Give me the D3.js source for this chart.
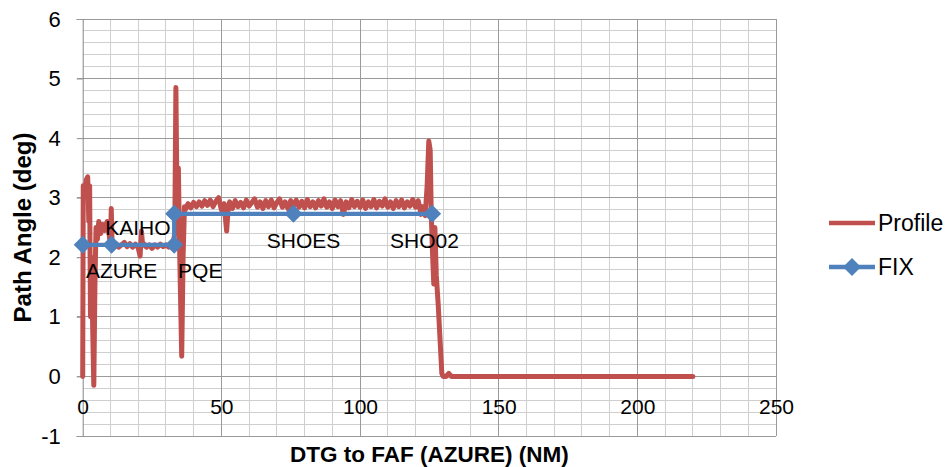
<!DOCTYPE html>
<html><head><meta charset="utf-8">
<script src="https://cdn.jsdelivr.net/npm/d3@7/dist/d3.min.js"></script>
<style>
body{margin:0;background:#fff;}
svg{display:block;font-family:"Liberation Sans",Arial,sans-serif;}
</style></head>
<body><svg id="c" width="949" height="467"></svg>
<script>
// ---- data ----
const profileDist = [0,0.2,0.8,1.3,1.8,2.2,2.5,2.8,3.2,3.6,4.0,4.4,4.8,5.3,5.8,6.5,7.2,8.0,8.8,9.5,10.0,10.3,10.6,
 11,12,13,14,15,16,17,18,19,20,20.7,21.2,21.6,22,23,24,25,26,27,28,29,30,31,32,32.5,33.2,33.6,34.0,34.5,35.0,35.7,36.2,36.7,
 37,38,39,40,41,42,43,44,45,46,47,48,49,50,51,51.9,52.5,53,54,55,56,57,58,59,60,61,62,63,64,65,66,67,68,69,70,
 71,72,73,74,75,76,77,78,79,80,81,82,83,84,85,86,87,88,89,90,91,92,93,94,95,96,97,98,99,100,
 101,102,103,104,105,106,107,108,109,110,111,112,113,114,115,116,117,118,119,120,121,122,122.5,123.5,124.2,124.8,125.3,125.7,126.2,126.6,127.0,127.5,128.2,129.5,130,131,132,133,220];
const profileAngle = [0,3.2,3.1,3.3,3.35,2.6,3.2,1.0,2.0,0.8,-0.15,1.5,2.5,2.3,2.6,2.4,2.55,2.45,2.6,2.4,2.2,2.82,2.2,
 2.2,2.23,2.17,2.21,2.25,2.18,2.23,2.17,2.22,2.16,2.02,2.44,2.2,2.23,2.17,2.21,2.15,2.21,2.17,2.22,2.18,2.21,2.17,2.2,2.2,2.4,4.85,3.0,3.5,2.0,0.34,2.0,2.85,
 2.8,2.9,2.83,2.92,2.85,2.93,2.86,2.95,2.87,2.96,2.85,2.94,3.0,2.8,2.9,2.44,2.84,2.93,2.82,2.95,2.85,2.92,2.83,2.96,2.86,2.92,2.98,2.84,2.93,2.82,2.95,2.85,2.96,2.83,2.92,
 2.98,2.84,2.93,2.82,2.95,2.86,2.96,2.84,2.94,2.83,2.97,2.85,2.93,2.83,2.95,2.86,2.98,2.84,2.93,2.82,2.96,2.85,2.95,2.72,2.93,2.83,2.97,2.85,2.94,2.84,
 2.96,2.82,2.93,2.85,2.97,2.83,2.94,2.86,2.98,2.84,2.93,2.82,2.95,2.85,2.96,2.83,2.93,2.86,2.97,2.84,2.95,2.72,2.85,2.7,3.2,3.95,3.8,2.7,2.0,1.55,2.5,1.7,1.2,0.05,0.0,0.0,0.05,0.0,0.0];
const fixNames = ["AZURE","KAIHO","PQE","PQE","SHOES","SHO02"];
const fixDist  = [0,10.4,33,33,76,126];
const fixAngle = [2.21,2.21,2.21,2.73,2.73,2.73];
const labelText = ["AZURE","KAIHO","PQE","SHOES","SHO02"];
const labelDist = [1.2,8.1,34.4,66.4,110.8];
const labelAngle= [1.78,2.5,1.78,2.28,2.28];
const xTicks = [0,50,100,150,200,250];
const yTicks = [-1,0,1,2,3,4,5,6];
const seriesNames = ["Profile","FIX"];

// ---- chart ----
const svg = d3.select("#c");
const x = d3.scaleLinear().domain([0,250]).range([82.7,776]);
const y = d3.scaleLinear().domain([-1,6]).range([436,19]);
const red = "#c0504d", blue = "#4f81bd";

const g = svg.append("g");
// minor grid
g.selectAll("line.vmin").data(d3.range(0,251,10).filter(v=>v%50!==0)).join("line")
 .attr("x1",d=>x(d)).attr("x2",d=>x(d)).attr("y1",y(6)).attr("y2",y(-1))
 .attr("stroke","#cfcfcf").attr("stroke-width",1).attr("shape-rendering","crispEdges");
g.selectAll("line.hmin").data(d3.range(-1,6.001,0.2).filter(v=>Math.abs(v-Math.round(v))>0.01)).join("line")
 .attr("x1",x(0)).attr("x2",x(250)).attr("y1",d=>y(d)).attr("y2",d=>y(d))
 .attr("stroke","#cfcfcf").attr("stroke-width",1).attr("shape-rendering","crispEdges");
// major grid
g.selectAll("line.vmaj").data(xTicks.slice(1)).join("line")
 .attr("x1",d=>x(d)).attr("x2",d=>x(d)).attr("y1",y(6)).attr("y2",y(-1))
 .attr("stroke","#9a9a9a").attr("stroke-width",1).attr("shape-rendering","crispEdges");
g.selectAll("line.hmaj").data(yTicks).join("line")
 .attr("x1",x(0)-6).attr("x2",x(250)).attr("y1",d=>y(d)).attr("y2",d=>y(d))
 .attr("stroke","#9a9a9a").attr("stroke-width",1).attr("shape-rendering","crispEdges");

// y axis
const ya = svg.append("g").attr("transform",`translate(${x(0)},0)`)
 .call(d3.axisLeft(y).tickValues(yTicks).tickSize(6).tickPadding(16).tickFormat(d=>String(d)));
ya.select(".domain").attr("stroke","#868686");
ya.selectAll(".tick line").attr("stroke","#9a9a9a");
ya.selectAll("text").attr("font-size",22).attr("fill","#000").attr("font-family","Liberation Sans, Arial");
// x axis labels at y=0
const xa = svg.append("g").attr("transform",`translate(0,${y(0)})`)
 .call(d3.axisBottom(x).tickValues(xTicks).tickSize(0).tickPadding(23));
xa.select(".domain").remove();
xa.selectAll("text").attr("font-size",21).attr("fill","#000").attr("font-family","Liberation Sans, Arial");

// profile line
const line = d3.line().x(d=>x(d[0])).y(d=>y(d[1]));
svg.append("path").datum(profileDist.map((d,i)=>[d,profileAngle[i]]))
 .attr("d",line).attr("fill","none").attr("stroke",red).attr("stroke-width",5)
 .attr("stroke-linejoin","round").attr("stroke-linecap","round");
// fix line
const fixPts = fixDist.map((d,i)=>[d,fixAngle[i]]);
svg.append("path").datum(fixPts).attr("d",line).attr("fill","none").attr("stroke",blue).attr("stroke-width",4.2).attr("stroke-linejoin","round");
const diamond = "M0,-9L9,0L0,9L-9,0Z";
svg.selectAll("path.dm").data(fixPts).join("path").attr("class","dm")
 .attr("d",diamond).attr("transform",d=>`translate(${x(d[0])},${y(d[1])})`).attr("fill",blue);

// fix labels
svg.selectAll("text.fl").data(labelText).join("text").attr("class","fl")
 .attr("x",(d,i)=>x(labelDist[i])).attr("y",(d,i)=>y(labelAngle[i]))
 .attr("dy","0.35em").attr("font-size",21).attr("fill","#000").text(d=>d);

// axis titles
svg.append("text").attr("x",(x(0)+x(250))/2).attr("y",462).attr("text-anchor","middle")
 .attr("font-size",22.5).attr("font-weight","bold").text("DTG to FAF (AZURE) (NM)");
svg.append("text").attr("transform",`translate(31,${(y(6)+y(-1))/2}) rotate(-90)`).attr("text-anchor","middle")
 .attr("font-size",24).attr("font-weight","bold").text("Path Angle (deg)");

// legend
const lg = svg.append("g");
[0,1].forEach(i=>{
  const ly = 223 + i*44;
  lg.append("line").attr("x1",829).attr("x2",875).attr("y1",ly).attr("y2",ly)
    .attr("stroke",i===0?red:blue).attr("stroke-width",4.5);
  if(i===1) lg.append("path").attr("d",diamond).attr("transform",`translate(852,${ly})`).attr("fill",blue);
  lg.append("text").attr("x",878).attr("y",ly).attr("dy","0.35em").attr("font-size",23).text(seriesNames[i]);
});
</script></body></html>
